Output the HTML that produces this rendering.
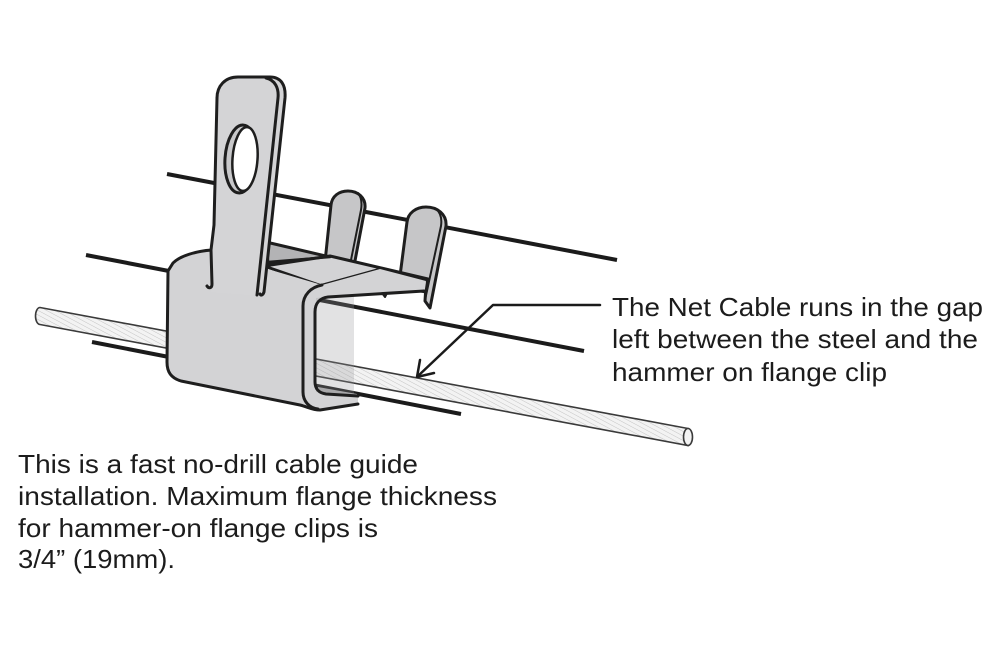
<!DOCTYPE html>
<html>
<head>
<meta charset="utf-8">
<style>
  html,body{margin:0;padding:0;background:#fff;}
  svg{display:block;}
  .t{font-family:"Liberation Sans","DejaVu Sans",sans-serif;font-size:26px;fill:#1c1c1c;}
</style>
</head>
<body>
<svg width="1000" height="664" viewBox="0 0 1000 664" xmlns="http://www.w3.org/2000/svg">
  <defs>
    <pattern id="hatch" patternUnits="userSpaceOnUse" width="4" height="4" patternTransform="rotate(28)">
      <rect width="4" height="4" fill="#f3f3f3"/>
      <line x1="0" y1="0" x2="4" y2="0" stroke="#c4c4c4" stroke-width="1"/>
    </pattern>
  </defs>
  <rect width="1000" height="664" fill="#fff"/>

  <!-- beam / flange lines -->
  <g stroke="#1b1b1b" stroke-width="4" stroke-linecap="butt">
    <line x1="167" y1="174" x2="617" y2="260"/>
    <line x1="86" y1="255" x2="584" y2="351"/>
    <line x1="92" y1="342" x2="461" y2="414"/>
  </g>

  <!-- cable -->
  <path d="M40,307.5 L688,428.5 L688,445.5 L40,324.5 A4.5 8.5 0 0 1 40,307.5 Z" fill="url(#hatch)" stroke="#3a3a3a" stroke-width="1.6"/>
  <ellipse cx="688" cy="437" rx="4.5" ry="8.5" fill="#f3f3f3" stroke="#3a3a3a" stroke-width="1.6"/>

  <g stroke="#1e1e1e" stroke-width="3" stroke-linejoin="round" stroke-linecap="round">
    <!-- tab 1 -->
    <path d="M325,262 L331,205 C332,196 339,191 348,191 C358,191 366,198 365,208 L354,266 Z" fill="#c6c6c8"/>
    <path d="M358,193 C362,198 362,204 361,210 L350,265" fill="none" stroke-width="2"/>
    <!-- tab 2 -->
    <path d="M400,276 L407,222 C408,213 416,207 426,207 C437,207 447,214 446,226 L430,308 L425,301 L426,285 Z" fill="#c6c6c8"/>
    <path d="M436,209 C441,213 442,219 441,226 L425,300" fill="none" stroke-width="2"/>

    <!-- dark wedge under fold -->
    <path d="M266,242 L330,257 L268,263 Z" fill="#b3b3b5"/>
    <!-- fold / back flange -->
    <path d="M264,266 L330,256 L428,279 L426,292 L380,283 L358,288 L322,286 Z" fill="#d3d3d5"/>
    <path d="M322,285 L380,269 L426,281" fill="none" stroke-width="2.5"/>
    <path d="M268,262 L330,257" fill="none" stroke-width="2.5"/>
    <!-- barb -->
    <path d="M377,286 L393,281 L385,297 Z" fill="#a9a9ab" stroke-width="2"/>
  </g>

  <!-- front plate fill -->
  <path d="M212,250 C196,251 180,256 173,263 L168,271 L167,362 C167,372 171,378 181,381 L300,405 C308,407 312,410 320,410 L358,404 L358,396 L326,394 C319,393 315,389 315,382 L315,312 C315,303 320,298 328,297 L424,291 L426,281 L380,269 L322,285 L264,268 Z" fill="#d3d3d5"/>

  <!-- inner channel shading -->
  <path d="M316,298 L354,294 L354,397 L316,392 Z" fill="rgba(150,150,155,0.28)"/>
  <path d="M318,387 L357,394 L358,397 L326,395 L318,391 Z" fill="#a8a8aa"/>

  <g stroke="#1e1e1e" stroke-width="3" stroke-linejoin="round" stroke-linecap="round" fill="none">
    <path d="M212,250 C196,251 180,256 173,263 L168,271 L167,362 C167,372 171,378 181,381 L300,405 C308,407 312,410 320,410 L358,404"/>
    <path d="M322,285 C311,287 303,295 303,306 L303,392 C303,401 309,408 318,409"/>
    <path d="M358,396 L326,394 C319,393 315,389 315,382 L315,312 C315,303 320,298 328,297 L424,291"/>
  </g>

  <!-- eye tab -->
  <path d="M211,292 L211,255 L214,225 L217,98 C217,86 225,77 238,77 L270,77 C281,77 286,85 285,98 L264,296 Z" fill="#d4d4d6"/>
  <g stroke="#1e1e1e" stroke-width="3" stroke-linejoin="round" stroke-linecap="round" fill="none">
    <path d="M217,98 L214,225 L211,250 L212,284 C212,288 209,289 207,286"/>
    <path d="M217,98 C217,86 225,77 238,77 L270,77 C281,77 286,85 285,98 L264,292 C263,295 261,296 260,294"/>
    <path d="M266,78 C275,80 279,88 278,98 L257,295"/>
  </g>
  <ellipse cx="241" cy="159" rx="16" ry="34" fill="#c8c8ca" stroke="#1e1e1e" stroke-width="3" transform="rotate(4 241 159)"/>
  <ellipse cx="245" cy="159" rx="12.5" ry="32" fill="#fff" stroke="#1e1e1e" stroke-width="2.5" transform="rotate(4 245 159)"/>

  <!-- leader arrow -->
  <g stroke="#1b1b1b" stroke-width="2.5" fill="none" stroke-linecap="round" stroke-linejoin="round">
    <polyline points="600,305 493,305 418,376"/>
    <polyline points="420,360 417,377 434,373"/>
  </g>

  <!-- text right -->
  <text class="t" x="612" y="316" textLength="371" lengthAdjust="spacingAndGlyphs">The Net Cable runs in the gap</text>
  <text class="t" x="612" y="348" textLength="366" lengthAdjust="spacingAndGlyphs">left between the steel and the</text>
  <text class="t" x="612" y="381" textLength="275" lengthAdjust="spacingAndGlyphs">hammer on flange clip</text>

  <!-- text left -->
  <text class="t" x="18" y="473" textLength="400" lengthAdjust="spacingAndGlyphs">This is a fast no-drill cable guide</text>
  <text class="t" x="18" y="505" textLength="479" lengthAdjust="spacingAndGlyphs">installation. Maximum flange thickness</text>
  <text class="t" x="18" y="537" textLength="360" lengthAdjust="spacingAndGlyphs">for hammer-on flange clips is</text>
  <text class="t" x="18" y="568" textLength="157" lengthAdjust="spacingAndGlyphs">3/4” (19mm).</text>
</svg>
</body>
</html>
